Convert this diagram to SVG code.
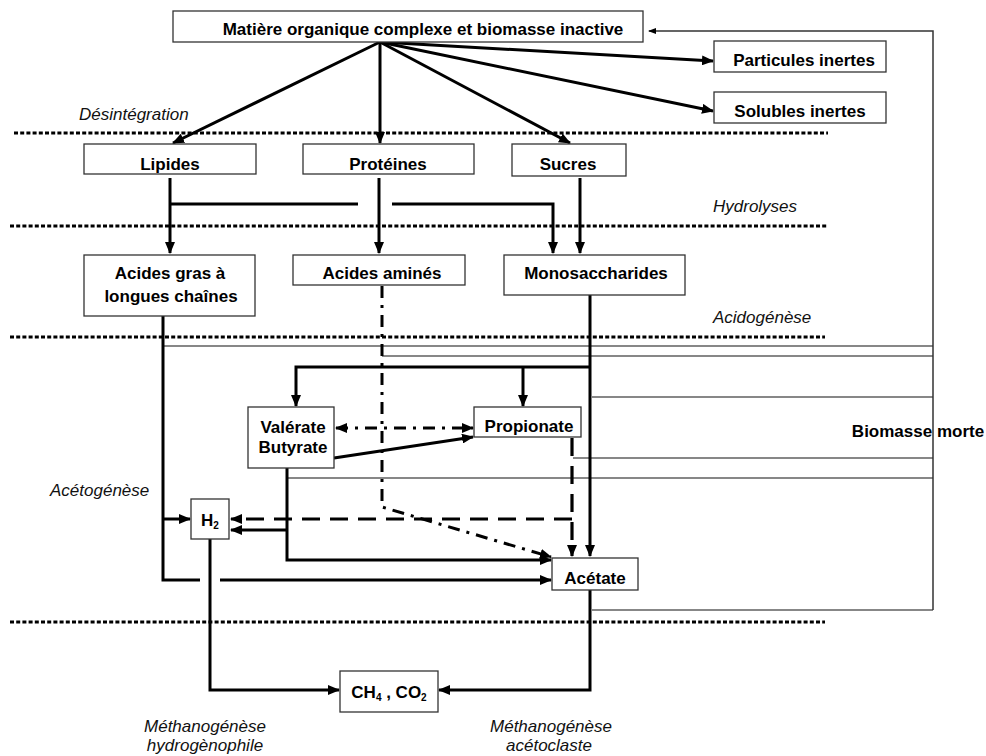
<svg xmlns="http://www.w3.org/2000/svg" width="986" height="756" viewBox="0 0 986 756">
  <style>
    .box { fill: #ffffff; stroke: #333333; stroke-width: 1.3; }
    .lbl { font-family: "Liberation Sans", Arial, sans-serif; font-size: 17px; font-weight: bold; fill: #000000; text-anchor: middle; }
    .sub { font-size: 10px; }
    .stage { font-family: "Liberation Sans", Arial, sans-serif; font-size: 17px; font-style: italic; fill: #111111; }
    .sep { fill: none; stroke: #000000; stroke-width: 3; stroke-dasharray: 4 2.2; }
    .flow { fill: none; stroke: #000000; stroke-width: 3; }
    .dash { fill: none; stroke: #000000; stroke-width: 3.2; stroke-dasharray: 18 10; }
    .dashdot { fill: none; stroke: #000000; stroke-width: 3; stroke-dasharray: 12 7 3 7; }
    .thin { fill: none; stroke: #111111; stroke-width: 1.2; }
    .back { fill: none; stroke: #333333; stroke-width: 1.5; }
  </style>
  <defs>
    <marker id="ah" markerUnits="userSpaceOnUse" markerWidth="12" markerHeight="10" refX="11" refY="5" orient="auto-start-reverse">
      <path d="M0,0 L12,5 L0,10 Z" fill="#000000"/>
    </marker>
    <marker id="ahs" markerUnits="userSpaceOnUse" markerWidth="8" markerHeight="6" refX="7" refY="3" orient="auto">
      <path d="M0,0 L8,3 L0,6 Z" fill="#000000"/>
    </marker>
  </defs>

  <rect width="986" height="756" fill="#ffffff"/>

  <!-- stage separators -->
  <g id="separators">
    <line class="sep" x1="14" y1="133" x2="828" y2="133"/>
    <line class="sep" x1="10" y1="226" x2="827" y2="226"/>
    <line class="sep" x1="10" y1="337" x2="825" y2="337"/>
    <line class="sep" x1="10" y1="622" x2="825" y2="622"/>
  </g>

  <!-- stage names -->
  <g id="stages">
    <text class="stage" x="79" y="120">Désintégration</text>
    <text class="stage" x="713" y="212">Hydrolyses</text>
    <text class="stage" x="713" y="323">Acidogénèse</text>
    <text class="stage" x="50" y="496">Acétogénèse</text>
    <text class="stage" x="205" y="732" text-anchor="middle">Méthanogénèse</text>
    <text class="stage" x="205" y="751" text-anchor="middle">hydrogènophile</text>
    <text class="stage" x="551" y="732" text-anchor="middle">Méthanogénèse</text>
    <text class="stage" x="549" y="751" text-anchor="middle">acétoclaste</text>
  </g>

  <!-- connectors -->
  <g id="connectors">
    <!-- dead biomass return lines -->
    <path class="thin" d="M163,346 H933"/>
    <path class="thin" d="M382,356 H933"/>
    <path class="thin" d="M592,397 H933"/>
    <path class="thin" d="M573,458 H933"/>
    <path class="thin" d="M288,478 H933"/>
    <path class="thin" d="M592,610 H933"/>
    <path class="back" d="M933,610 V31 H649" marker-end="url(#ahs)"/>

    <!-- disintegration -->
    <path class="flow" d="M380,42 L173,143" marker-end="url(#ah)"/>
    <path class="flow" d="M380,42 L380,143" marker-end="url(#ah)"/>
    <path class="flow" d="M380,42 L570,143" marker-end="url(#ah)"/>
    <path class="flow" d="M380,42 L713,61" marker-end="url(#ah)"/>
    <path class="flow" d="M380,42 L713,111" marker-end="url(#ah)"/>

    <!-- hydrolysis -->
    <path class="flow" d="M170,178 V253" marker-end="url(#ah)"/>
    <path class="flow" d="M170,204 H358"/>
    <path class="flow" d="M392,204 H553 V253" marker-end="url(#ah)"/>
    <path class="flow" d="M379,178 V253" marker-end="url(#ah)"/>
    <path class="flow" d="M580,178 V253" marker-end="url(#ah)"/>

    <!-- acidogenesis from monosaccharides -->
    <path class="flow" d="M590,295 V556" marker-end="url(#ah)"/>
    <path class="flow" d="M590,367 H296 V406" marker-end="url(#ah)"/>
    <path class="flow" d="M523,367 V406" marker-end="url(#ah)"/>

    <!-- amino acids -->
    <path class="dashdot" d="M382,286 V507 L551,557" marker-end="url(#ah)"/>
    <path class="dashdot" d="M336,428 H473" marker-start="url(#ah)" marker-end="url(#ah)"/>

    <!-- long chain fatty acids -->
    <path class="flow" d="M163,316 V580 H200"/>
    <path class="flow" d="M220,580 H551" marker-end="url(#ah)"/>
    <path class="flow" d="M163,519 H190" marker-end="url(#ah)"/>

    <!-- valerate / butyrate -->
    <path class="flow" d="M334,458 L473,437" marker-end="url(#ah)"/>
    <path class="flow" d="M287,468 V560 H551" marker-end="url(#ah)"/>
    <path class="flow" d="M287,530 H231" marker-end="url(#ah)"/>

    <!-- propionate -->
    <path class="dash" d="M572,438 V556" marker-end="url(#ah)"/>
    <path class="dash" d="M572,519 H231" marker-end="url(#ah)"/>

    <!-- methanogenesis -->
    <path class="flow" d="M210,539 V690 H339" marker-end="url(#ah)"/>
    <path class="flow" d="M590,590 V690 H439" marker-end="url(#ah)"/>
  </g>

  <!-- nodes -->
  <g id="n-matiere">
    <rect class="box" x="173" y="11" width="470" height="31"/>
    <text class="lbl" x="423" y="35">Matière organique complexe et biomasse inactive</text>
  </g>
  <g id="n-particules">
    <rect class="box" x="714" y="41" width="172" height="31"/>
    <text class="lbl" x="804" y="66">Particules inertes</text>
  </g>
  <g id="n-solubles">
    <rect class="box" x="714" y="92" width="172" height="31"/>
    <text class="lbl" x="800" y="117">Solubles inertes</text>
  </g>
  <g id="n-lipides">
    <rect class="box" x="84" y="144" width="172" height="30"/>
    <text class="lbl" x="170" y="170">Lipides</text>
  </g>
  <g id="n-proteines">
    <rect class="box" x="303" y="144" width="171" height="30"/>
    <text class="lbl" x="388" y="170">Protéines</text>
  </g>
  <g id="n-sucres">
    <rect class="box" x="512" y="144" width="114" height="32"/>
    <text class="lbl" x="568" y="170">Sucres</text>
  </g>
  <g id="n-acides-gras">
    <rect class="box" x="84" y="255" width="171" height="61"/>
    <text class="lbl" x="170" y="279">Acides gras à</text>
    <text class="lbl" x="171" y="302">longues chaînes</text>
  </g>
  <g id="n-acides-amines">
    <rect class="box" x="293" y="255" width="172" height="30"/>
    <text class="lbl" x="382" y="279">Acides aminés</text>
  </g>
  <g id="n-monosaccharides">
    <rect class="box" x="504" y="255" width="181" height="40"/>
    <text class="lbl" x="596" y="279">Monosaccharides</text>
  </g>
  <g id="n-valerate">
    <rect class="box" x="248" y="407" width="86" height="61"/>
    <text class="lbl" x="293" y="433">Valérate</text>
    <text class="lbl" x="293" y="453">Butyrate</text>
  </g>
  <g id="n-propionate">
    <rect class="box" x="474" y="407" width="107" height="30"/>
    <text class="lbl" x="529" y="432">Propionate</text>
  </g>
  <g id="n-h2">
    <rect class="box" x="191" y="499" width="38" height="40"/>
    <text class="lbl" x="210" y="526">H<tspan class="sub" dy="3">2</tspan></text>
  </g>
  <g id="n-acetate">
    <rect class="box" x="552" y="558" width="86" height="32"/>
    <text class="lbl" x="595" y="584">Acétate</text>
  </g>
  <g id="n-ch4">
    <rect class="box" x="340" y="671" width="98" height="41"/>
    <text class="lbl" x="389" y="698">CH<tspan class="sub" dy="3">4</tspan><tspan dy="-3"> , CO</tspan><tspan class="sub" dy="3">2</tspan></text>
  </g>
  <g id="n-biomasse-morte">
    <text class="lbl" x="918" y="437">Biomasse morte</text>
  </g>
</svg>
